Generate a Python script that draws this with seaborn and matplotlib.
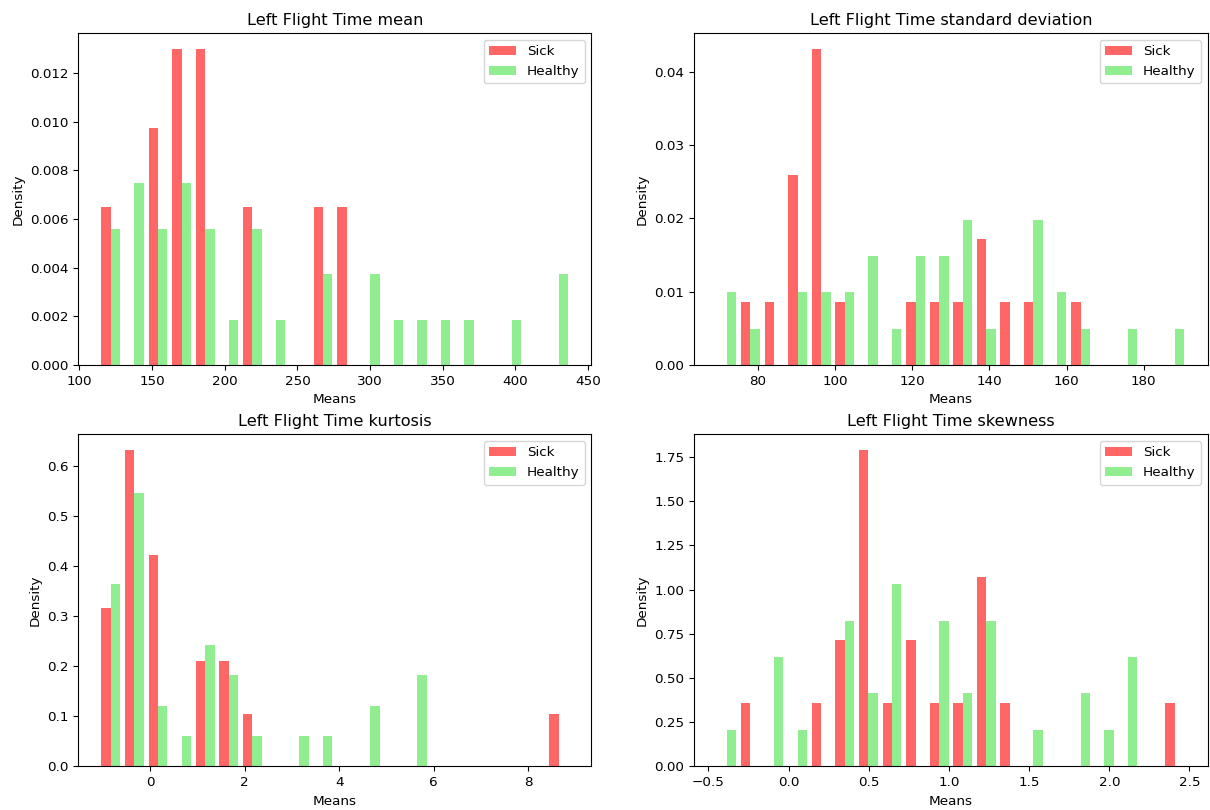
import numpy as np
import pandas as pd
import seaborn as sns
import matplotlib
matplotlib.use("Agg")
import matplotlib.pyplot as plt

groups = ["Sick", "Healthy"]
colors = {"Sick": "#ff6666", "Healthy": "#90ee90"}

# (min, max) of each feature over both groups, and counts in each of the 20 bins
mean_range = (113.5, 437.9)
mean_sick = [2, 0, 3, 4, 4, 0, 2, 0, 0, 2, 2, 0, 0, 0, 0, 0, 0, 0, 0, 0]
mean_healthy = [3, 4, 3, 4, 3, 1, 3, 1, 0, 2, 0, 2, 1, 1, 1, 1, 0, 1, 0, 2]

std_range = (68.93, 191.09)
std_sick = [0, 1, 1, 3, 5, 1, 0, 0, 1, 1, 1, 2, 1, 1, 0, 1, 0, 0, 0, 0]
std_healthy = [2, 1, 0, 2, 2, 2, 3, 1, 3, 3, 4, 1, 0, 4, 2, 1, 0, 1, 0, 1]

kurt_range = (-1.088, 8.902)
kurt_sick = [3, 6, 4, 0, 2, 2, 1, 0, 0, 0, 0, 0, 0, 0, 0, 0, 0, 0, 0, 1]
kurt_healthy = [6, 9, 2, 1, 4, 3, 1, 0, 1, 1, 0, 2, 0, 3, 0, 0, 0, 0, 0, 0]

skew_range = (-0.458, 2.482)
skew_sick = [0, 1, 0, 0, 1, 2, 5, 1, 2, 1, 1, 3, 1, 0, 0, 0, 0, 0, 0, 1]
skew_healthy = [1, 0, 3, 1, 0, 4, 2, 5, 0, 4, 2, 4, 0, 1, 0, 2, 1, 3, 0, 0]

panels = [
    ("Left Flight Time mean", mean_range, mean_sick, mean_healthy),
    ("Left Flight Time standard deviation", std_range, std_sick, std_healthy),
    ("Left Flight Time kurtosis", kurt_range, kurt_sick, kurt_healthy),
    ("Left Flight Time skewness", skew_range, skew_sick, skew_healthy),
]

plt.rcParams["font.size"] = 9.7

fig, axes = plt.subplots(2, 2, figsize=(12.1, 8.1), dpi=100)
fig.subplots_adjust(left=0.0645, right=0.998, top=0.959, bottom=0.054,
                    wspace=0.2, hspace=0.208)

for ax, (title, rng, sick, healthy) in zip(axes.flat, panels):
    edges = np.linspace(rng[0], rng[1], 21)
    centers = (edges[:-1] + edges[1:]) / 2
    df = pd.DataFrame({
        "value": np.concatenate([centers, centers]),
        "count": sick + healthy,
        "group": ["Sick"] * 20 + ["Healthy"] * 20,
    })
    sns.histplot(data=df, x="value", weights="count", hue="group",
                 hue_order=groups, palette=colors, bins=edges.tolist(),
                 stat="density", common_norm=False, multiple="dodge",
                 shrink=0.8, alpha=1, linewidth=0, ax=ax)
    sns.move_legend(ax, "upper right", title=None, frameon=True,
                    fontsize=9.7)
    ax.set_title(title, fontsize=11.6)
    ax.set_xlabel("Means")
    ax.set_ylabel("Density")

plt.savefig("out.png")
